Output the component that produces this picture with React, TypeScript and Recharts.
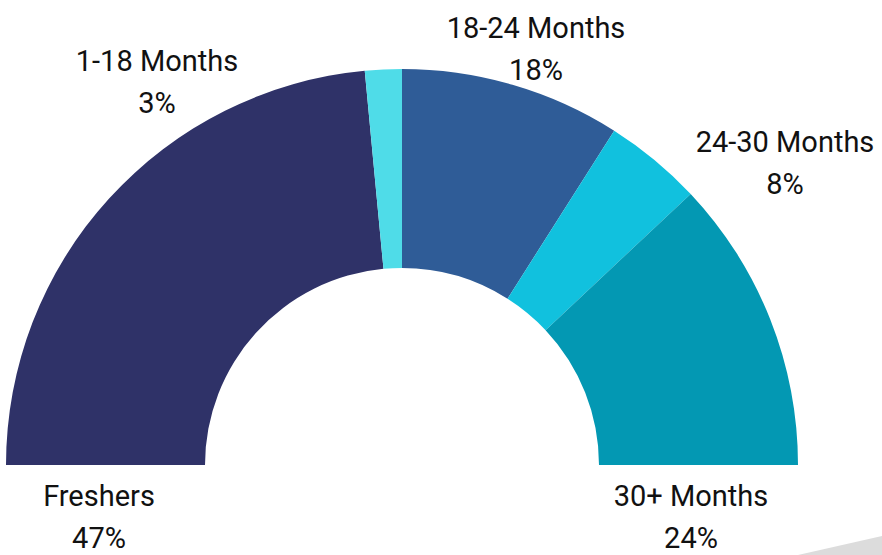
import React from 'react';
import { PieChart, Pie, Cell } from 'recharts';

const CATEGORIES = ['Freshers', '1-18 Months', '18-24 Months', '24-30 Months', '30+ Months'];
const SHARES = [47, 3, 18, 8, 24];
const COLORS = ['#2F3268', '#4FDCE8', '#2F5C97', '#11C1DE', '#0398B3'];

// label anchor (centre x, first baseline y) for each category
const LABEL_POS: Record<string, [number, number]> = {
    'Freshers':     [99, 506],
    '1-18 Months':  [157, 71],
    '18-24 Months': [536, 38],
    '24-30 Months': [785, 152],
    '30+ Months':   [691, 506],
};

const data = CATEGORIES.map((name, i) => ({ name, value: SHARES[i] }));

const renderLabel = (props: any) => {
    const pos = LABEL_POS[props.name];
    if (!pos) return null;
    const [x, y] = pos;
    return (
        <text x={x} y={y} textAnchor="middle" fill="#111"
              style={{ fontFamily: 'Roboto, sans-serif', fontSize: 29 }}>
            <tspan x={x} y={y}>{props.name}</tspan>
            <tspan x={x} y={y + 42}>{`${props.value}%`}</tspan>
        </text>
    );
};

const App: React.FC = () => (
    <div style={{ position: 'absolute', top: 0, left: 0, width: 882, height: 555, background: '#fff', overflow: 'hidden' }}>
        <PieChart width={882} height={555} margin={{ top: 0, right: 0, bottom: 0, left: 0 }}>
            <Pie
                data={data}
                dataKey="value"
                nameKey="name"
                cx={402}
                cy={465}
                startAngle={180}
                endAngle={0}
                innerRadius={197}
                outerRadius={396}
                stroke="none"
                label={renderLabel}
                labelLine={false}
                isAnimationActive={false}
            >
                {data.map((d, i) => <Cell key={d.name} fill={COLORS[i]} />)}
            </Pie>
        </PieChart>
        <svg width={882} height={555} style={{ position: 'absolute', top: 0, left: 0, pointerEvents: 'none' }}>
            <polygon points="798,555 882,536 882,555" fill="#DCDCDC" />
        </svg>
    </div>
);

export default App;
